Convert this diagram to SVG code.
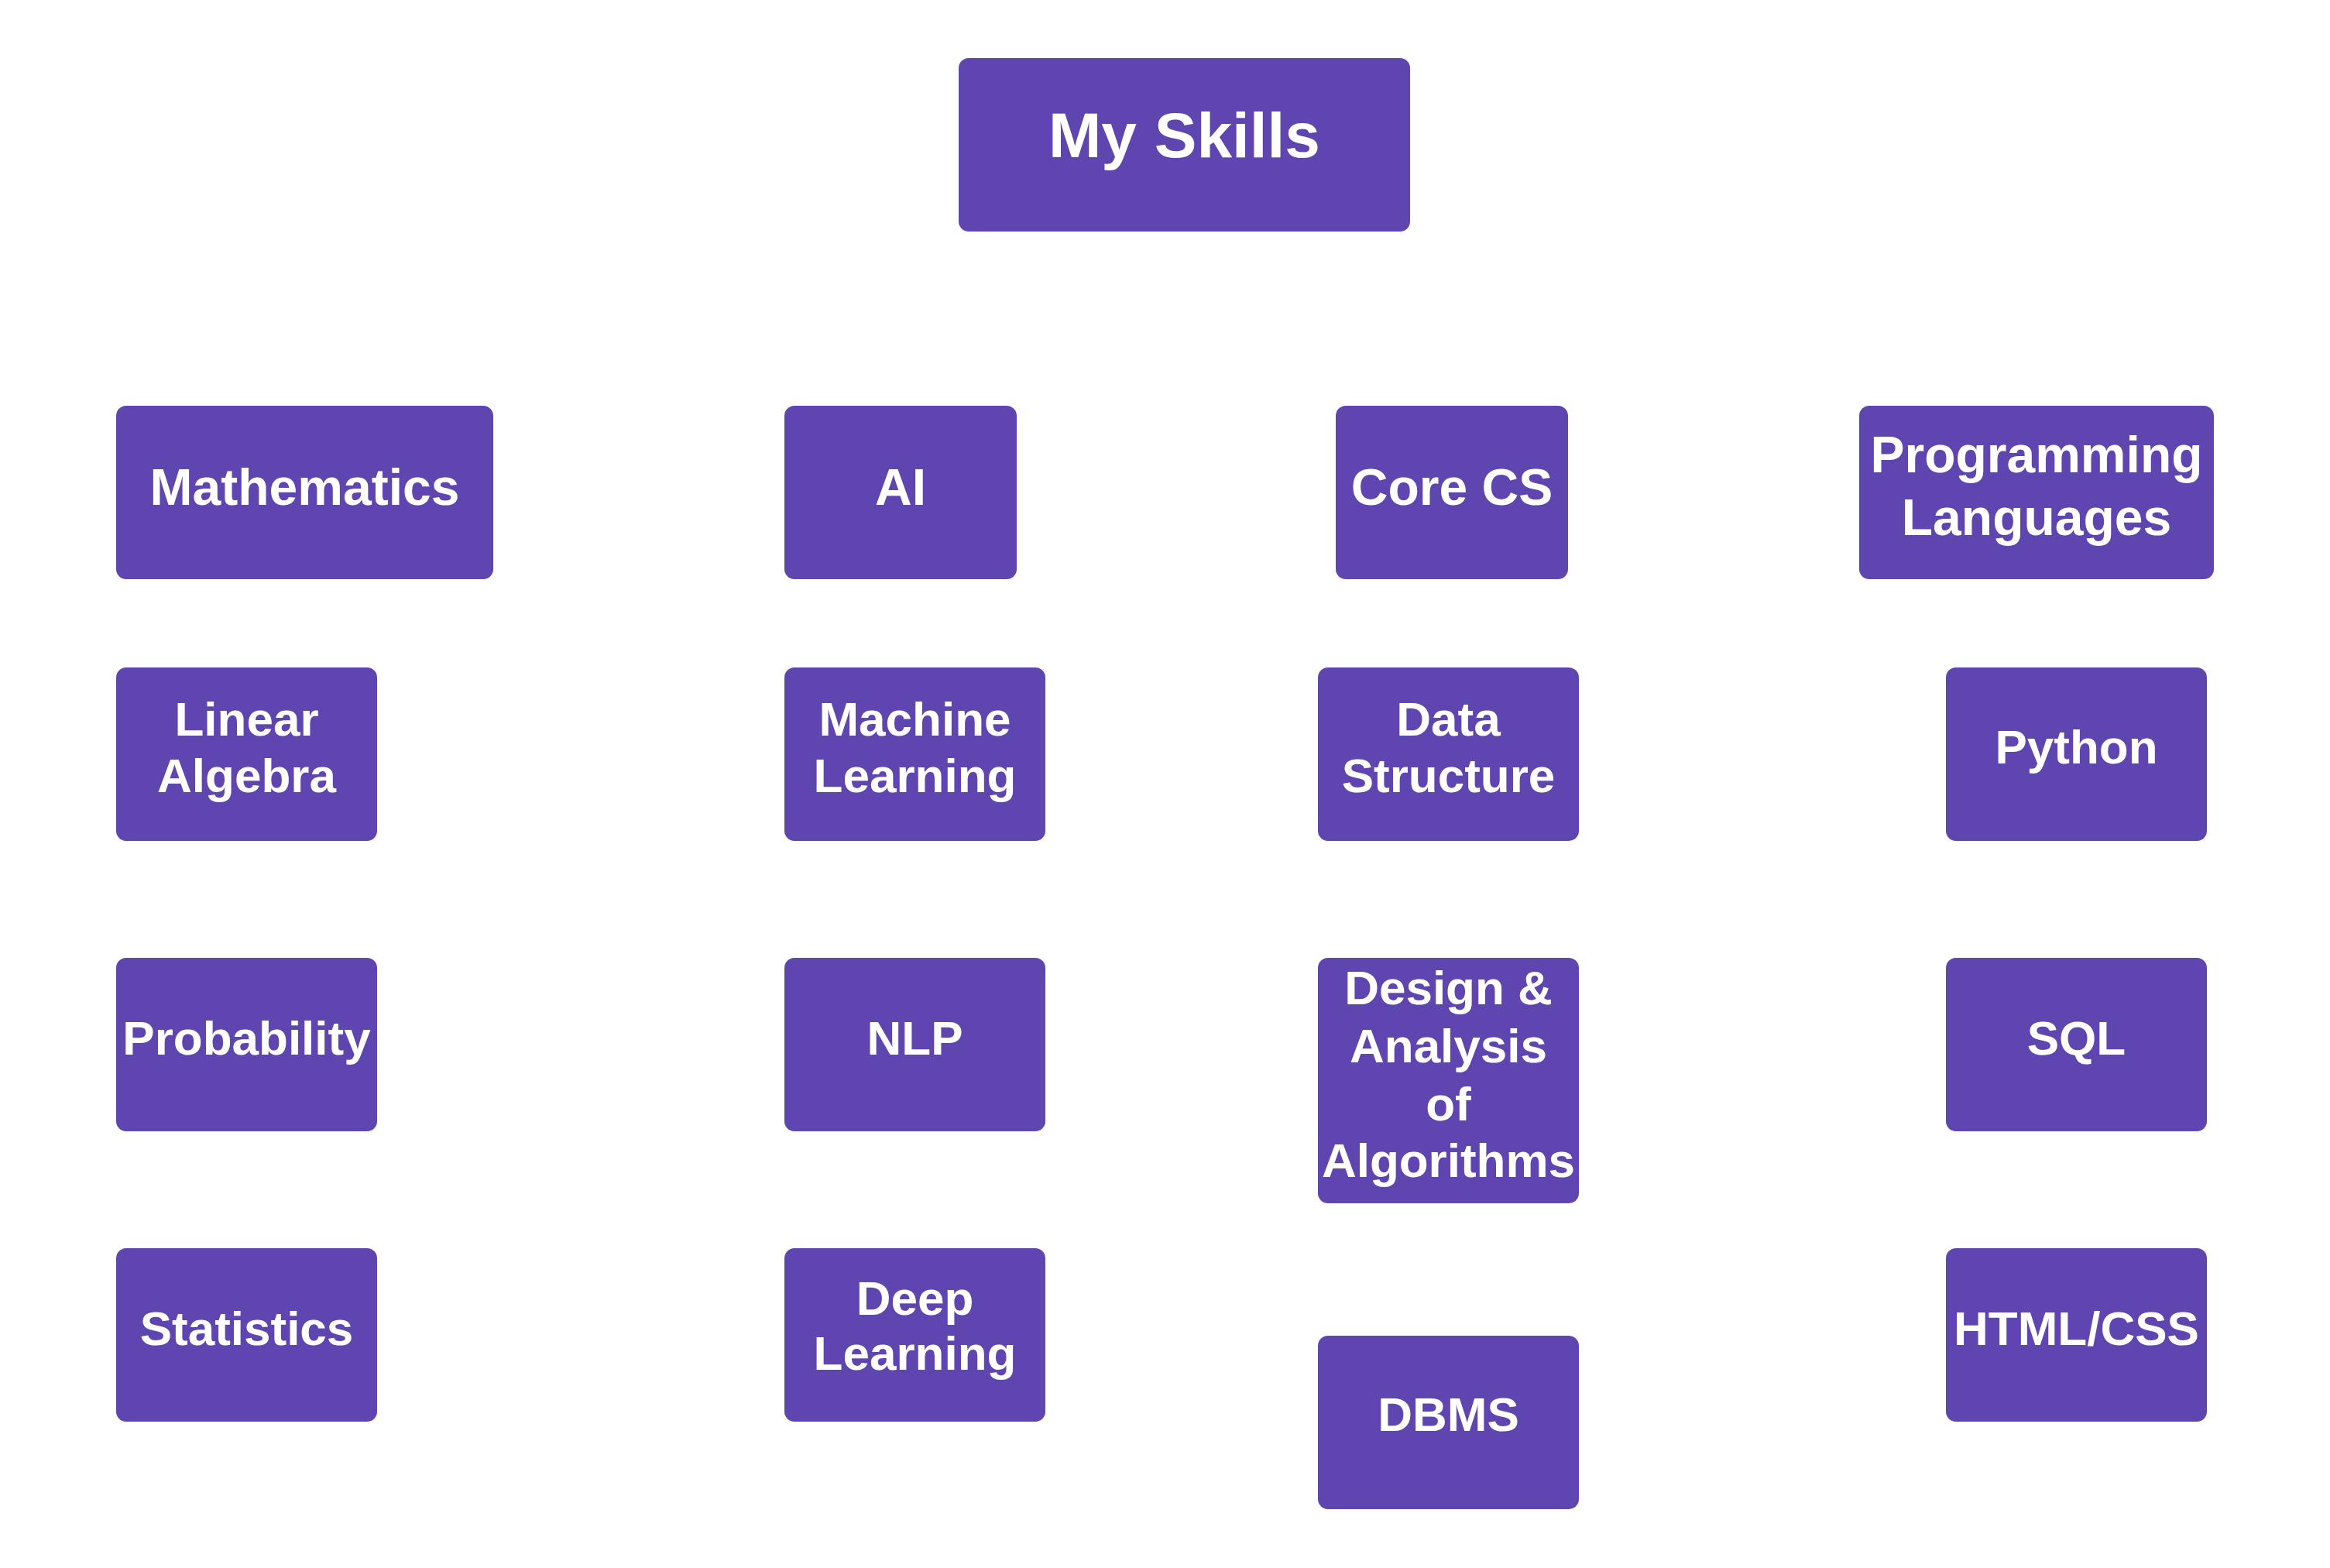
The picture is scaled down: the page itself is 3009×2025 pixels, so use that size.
<svg xmlns="http://www.w3.org/2000/svg" width="3009" height="2025" viewBox="0 0 3009 2025">
<style>
.box{fill:#5f45b0;}
.t{fill:#ffffff;font-family:"Liberation Sans",Arial,sans-serif;font-weight:bold;text-anchor:middle;}
.big{font-size:82px;}
.h1{font-size:66px;}
.n{font-size:62px;}
</style>
<rect width="3009" height="2025" fill="#ffffff"/>
<g id="connectors"></g>
<g id="node-myskills"><rect class="box" x="1238" y="75" width="583" height="224" rx="13"/><text class="t big" x="1529.5" y="203">My Skills</text></g>

<g id="node-mathematics"><rect class="box" x="150" y="524" width="487" height="224" rx="13"/><text class="t h1" x="393.5" y="652">Mathematics</text></g>
<g id="node-ai"><rect class="box" x="1013" y="524" width="300" height="224" rx="13"/><text class="t h1" x="1163" y="652">AI</text></g>
<g id="node-corecs"><rect class="box" x="1725" y="524" width="300" height="224" rx="13"/><text class="t h1" x="1875" y="652">Core CS</text></g>
<g id="node-proglang"><rect class="box" x="2401" y="524" width="458" height="224" rx="13"/><text class="t h1" x="2630" y="610">Programming</text><text class="t h1" x="2630" y="691">Languages</text></g>

<g id="node-linalg"><rect class="box" x="150" y="862" width="337" height="224" rx="13"/><text class="t n" x="318.5" y="950">Linear</text><text class="t n" x="318.5" y="1023">Algebra</text></g>
<g id="node-ml"><rect class="box" x="1013" y="862" width="337" height="224" rx="13"/><text class="t n" x="1181.5" y="950">Machine</text><text class="t n" x="1181.5" y="1023">Learning</text></g>
<g id="node-ds"><rect class="box" x="1702" y="862" width="337" height="224" rx="13"/><text class="t n" x="1870.5" y="950">Data</text><text class="t n" x="1870.5" y="1023">Structure</text></g>
<g id="node-python"><rect class="box" x="2513" y="862" width="337" height="224" rx="13"/><text class="t n" x="2681.5" y="986">Python</text></g>

<g id="node-probability"><rect class="box" x="150" y="1237" width="337" height="224" rx="13"/><text class="t n" x="318.5" y="1362">Probability</text></g>
<g id="node-nlp"><rect class="box" x="1013" y="1237" width="337" height="224" rx="13"/><text class="t n" x="1181.5" y="1362">NLP</text></g>
<g id="node-daa"><rect class="box" x="1702" y="1237" width="337" height="317" rx="13"/><text class="t n" x="1870.5" y="1297">Design &amp;</text><text class="t n" x="1870.5" y="1372">Analysis</text><text class="t n" x="1870.5" y="1447">of</text><text class="t n" x="1870.5" y="1520">Algorithms</text></g>
<g id="node-sql"><rect class="box" x="2513" y="1237" width="337" height="224" rx="13"/><text class="t n" x="2681.5" y="1362">SQL</text></g>

<g id="node-statistics"><rect class="box" x="150" y="1612" width="337" height="224" rx="13"/><text class="t n" x="318.5" y="1737">Statistics</text></g>
<g id="node-dl"><rect class="box" x="1013" y="1612" width="337" height="224" rx="13"/><text class="t n" x="1181.5" y="1698">Deep</text><text class="t n" x="1181.5" y="1769">Learning</text></g>
<g id="node-dbms"><rect class="box" x="1702" y="1725" width="337" height="224" rx="13"/><text class="t n" x="1870.5" y="1848">DBMS</text></g>
<g id="node-htmlcss"><rect class="box" x="2513" y="1612" width="337" height="224" rx="13"/><text class="t n" x="2681.5" y="1737">HTML/CSS</text></g>
</svg>
